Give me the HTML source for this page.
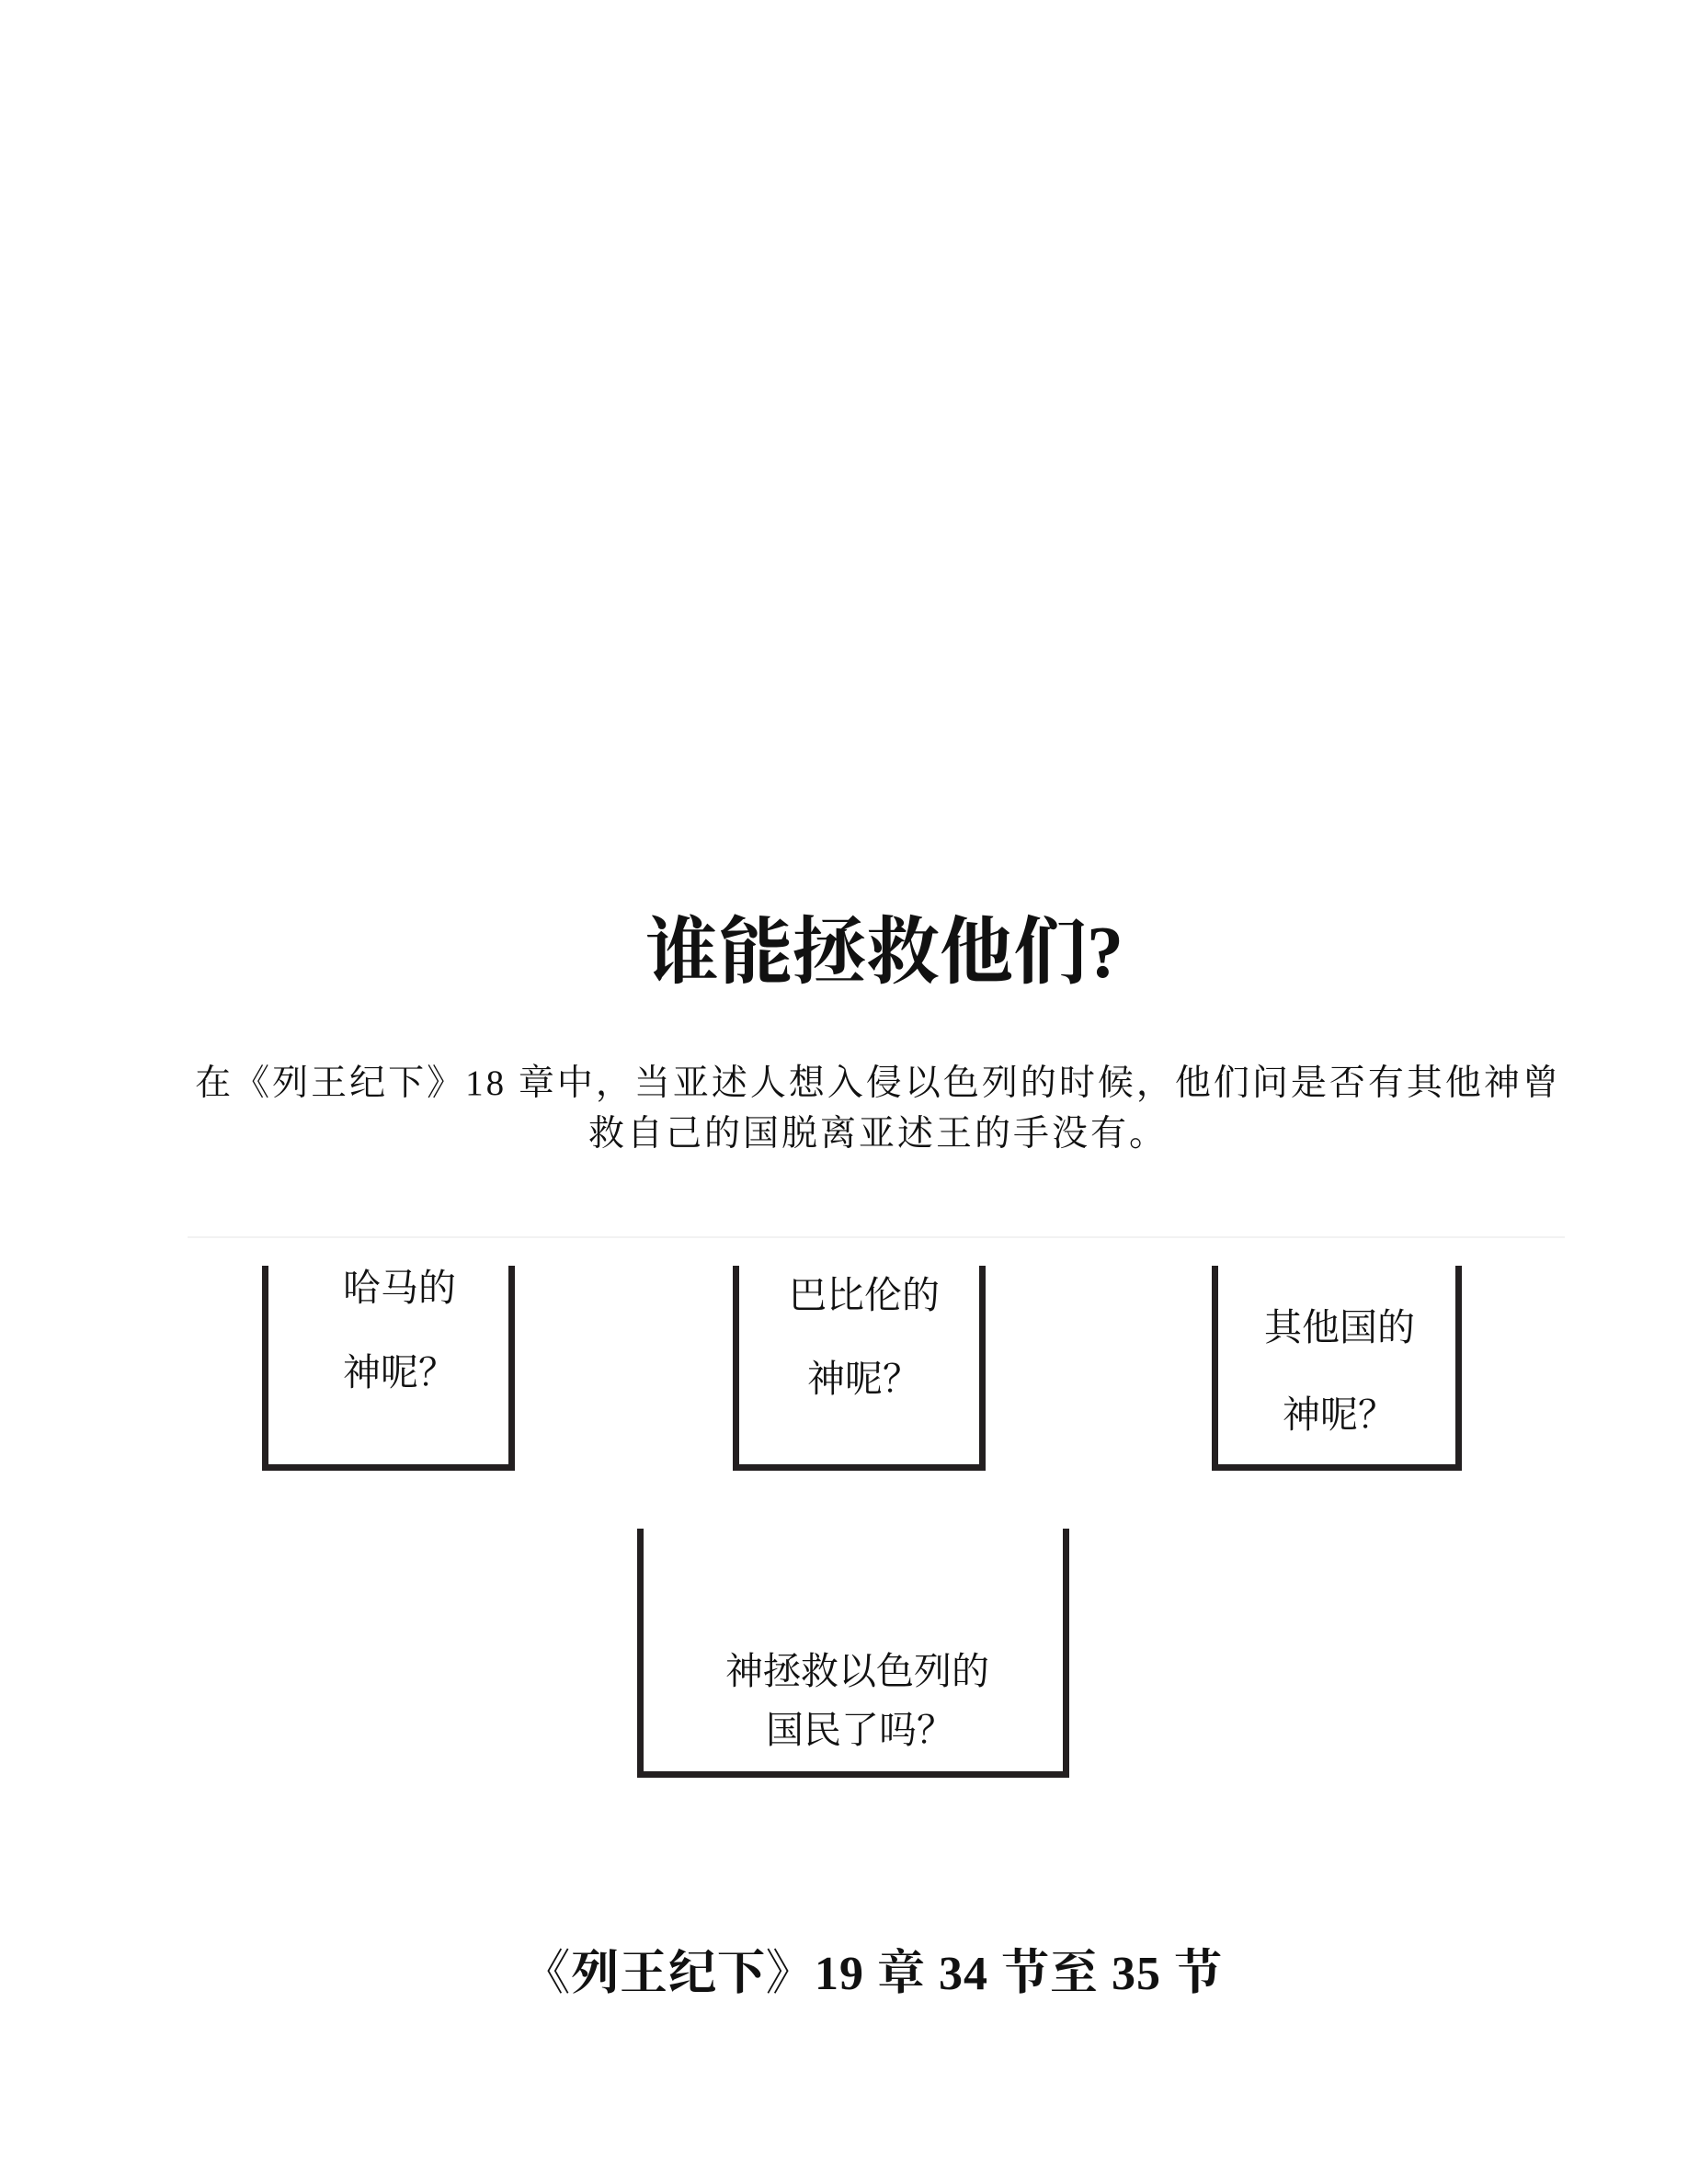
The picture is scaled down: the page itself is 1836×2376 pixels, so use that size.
<!DOCTYPE html>
<html><head><meta charset="utf-8"><style>
body{margin:0;width:1836px;height:2376px;background:#fff;position:relative;overflow:hidden;font-family:"Liberation Serif","Noto Serif CJK SC",serif;color:#111}
.t{position:absolute;white-space:nowrap;line-height:1}
.c{font-family:"Noto Serif CJK SC",serif}
.box{position:absolute;border:7px solid #231f20;border-top:none;box-sizing:border-box}
</style></head><body>
<div class="t" style="left:44px;width:1836px;text-align:center;top:997px;font-size:80px;font-weight:bold;">谁能拯救他们?</div>
<div class="t" style="left:37px;width:1836px;text-align:center;top:1159px;font-size:39px;letter-spacing:3px;">在《列王纪下》18 章中，当亚述人想入侵以色列的时候，他们问是否有其他神曾</div>
<div class="t" style="left:37px;width:1836px;text-align:center;top:1214px;font-size:39px;letter-spacing:3px;">救自己的国脱离亚述王的手没有。</div>
<div style="position:absolute;left:204px;top:1345px;width:1498px;height:2px;background:#f2f2f2"></div>

<div class="box" style="left:285px;top:1377px;width:275px;height:223px"></div>
<div class="box" style="left:797px;top:1377px;width:275px;height:223px"></div>
<div class="box" style="left:1318px;top:1377px;width:272px;height:223px"></div>
<div class="box" style="left:693px;top:1663px;width:470px;height:271px"></div>

<div class="t c" style="left:373px;top:1377px;font-size:41px;">哈马的</div>
<div class="t c" style="left:373px;top:1469px;font-size:41px;">神呢？</div>
<div class="t c" style="left:858px;top:1385px;font-size:41px;">巴比伦的</div>
<div class="t c" style="left:878px;top:1476px;font-size:41px;">神呢？</div>
<div class="t c" style="left:1375px;top:1420px;font-size:41px;">其他国的</div>
<div class="t c" style="left:1395px;top:1515px;font-size:41px;">神呢？</div>
<div class="t c" style="left:789px;top:1794px;font-size:41px;">神拯救以色列的</div>
<div class="t c" style="left:833px;top:1858px;font-size:41px;">国民了吗？</div>

<div class="t" style="left:31px;width:1836px;text-align:center;top:2122px;font-size:52px;font-weight:bold;letter-spacing:1px;">《列王纪下》19 章 34 节至 35 节</div>
</body></html>
